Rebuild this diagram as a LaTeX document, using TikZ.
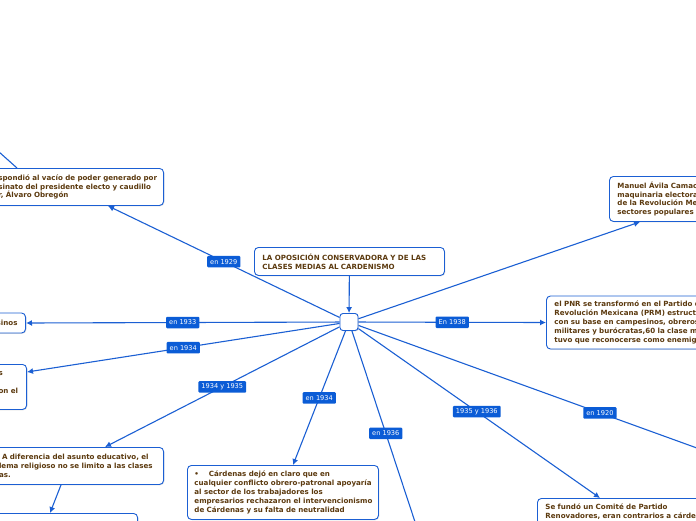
\documentclass[tikz,border=0pt]{standalone}
\usepackage{fontspec}
\setmainfont{DejaVu Sans}
\usepackage{tikz}
\usetikzlibrary{positioning,arrows.meta,shadows,calc}
\definecolor{mapBlue}{HTML}{1B5FD3}
\definecolor{tagBlue}{HTML}{0B5CD6}
\definecolor{textBrown}{HTML}{5C3A0F}

\begin{document}
\begin{tikzpicture}[x=1pt,y=-1pt,
    topic/.style={draw=mapBlue,line width=0.9pt,fill=white,rounded corners=4pt,
      text=textBrown,font=\fontsize{7.1}{8.8}\selectfont\bfseries,align=left,
      inner xsep=8pt,inner ysep=5pt,
      drop shadow={shadow xshift=0.8pt,shadow yshift=-0.8pt,opacity=0.25}},
    tag/.style={fill=tagBlue,text=white,rounded corners=1pt,
      font=\fontsize{6.6}{7}\selectfont,inner xsep=3pt,inner ysep=2pt,minimum height=11.5pt},
    link/.style={draw=mapBlue,line width=1.1pt,-{Latex[length=6pt,width=6pt]}},
    plain/.style={draw=mapBlue,line width=1.1pt}]
  \useasboundingbox (0,0) rectangle (696,520);
  \clip (0,0) rectangle (696,520);

  % hub and topics
  \node[draw=mapBlue,line width=0.9pt,fill=white,rounded corners=3pt,minimum width=18pt,minimum height=17pt,
    drop shadow={shadow xshift=0.8pt,shadow yshift=-0.8pt,opacity=0.25}] (hub) at (349,322) {};
  \node[topic,anchor=north west,text width=174pt,minimum height=28pt] (title) at (254,247)
    {LA OPOSICIÓN CONSERVADORA Y DE LAS\\CLASES MEDIAS AL CARDENISMO};
  \node[topic,anchor=north east,text width=162pt,minimum height=37pt] (obregon) at (164,168)
    {\mbox{espondió al vacío de poder generado por}\\\mbox{esinato del presidente electo y caudillo}\\or, Álvaro Obregón};
  \node[topic,anchor=east,minimum height=20pt] (campesinos) at (26,323) {sinos};
  \node[topic,anchor=north east,text width=22pt,inner xsep=6pt,minimum height=45pt] (left2) at (27,364)
    {s\\\mbox{}\\on el\\\mbox{}};
  \node[topic,anchor=north east,text width=156.5pt,minimum height=37pt] (religion) at (164,447)
    {\hspace{3pt}A diferencia del asunto educativo, el\\\mbox{lema religioso no se limito a las clases}\\as.};
  \node[topic,anchor=north east,minimum width=160pt,minimum height=30pt] (below) at (138,513) {};
  \node[topic,anchor=north west,text width=177pt,inner xsep=7pt,minimum height=54pt] (obrero) at (187,465)
    {•\hspace{10pt}Cárdenas dejó en claro que en\\\mbox{cualquier conflicto obrero-patronal apoyaría}\\al sector de los trabajadores los\\\mbox{empresarios rechazaron el intervencionismo}\\de Cárdenas y su falta de neutralidad};
  \node[topic,anchor=north west,text width=200pt,minimum height=45pt] (avila) at (609,176)
    {Manuel Ávila Camac\\maquinaria electora\\de la Revolución Me\\sectores populares (};
  \node[topic,anchor=west,text width=200pt,minimum height=53pt] (prm) at (546,322.5)
    {el PNR se transformó en el Partido d\\Revolución Mexicana (PRM) estructu\\con su base en campesinos, obreros\\militares y burócratas,60 la clase me\\tuvo que reconocerse como enemiga};
  \node[topic,anchor=north west,text width=200pt,minimum height=26pt] (renov) at (537,498)
    {Se fundó un Comité de Partido\\Renovadores, eran contrarios a cárden};
  \coordinate (out1936) at (421,540);
  \coordinate (out1920) at (730,460);
  \coordinate (outobr) at (-20,135);

  % connectors
  \draw[link] (title) -- (hub);
  \draw[link] (hub) -- ([xshift=-56pt]obregon.south east) node[tag,pos=.5] (t1929) {en 1929};
  \draw[link] (hub) -- (campesinos.east) node[tag,pos=.5] (t1933) {en 1933};
  \draw[link] (hub) -- ([yshift=-8pt]left2.north east) node[tag,pos=.5] (t1934a) {en 1934};
  \draw[link] (hub) -- ([xshift=-59pt]religion.north east) node[tag,pos=.5] (t1935) {1934 y 1935};
  \draw[link] ([xshift=-103pt]religion.south east) -- ([xshift=-88pt]below.north east);
  \draw[link] (hub) -- ([xshift=106pt]obrero.north west) node[tag,pos=.5] (t1934b) {en 1934};
  \draw[plain] (hub) -- (out1936) node[tag,pos=.49] (t1936) {en 1936};
  \draw[link] (hub) -- ([xshift=63pt]renov.north west) node[tag,pos=.49] (t1936b) {1935 y 1936};
  \draw[plain] (hub) -- (out1920) node[tag,pos=.65] (t1920) {en 1920};
  \draw[link] (hub) -- (prm.west) node[tag,pos=.5] (t1938) {En 1938};
  \draw[link] (hub) -- ([xshift=31pt]avila.south west);
  \draw[plain] ([xshift=-147pt]obregon.north east) -- (outobr);
\end{tikzpicture}
\end{document}
